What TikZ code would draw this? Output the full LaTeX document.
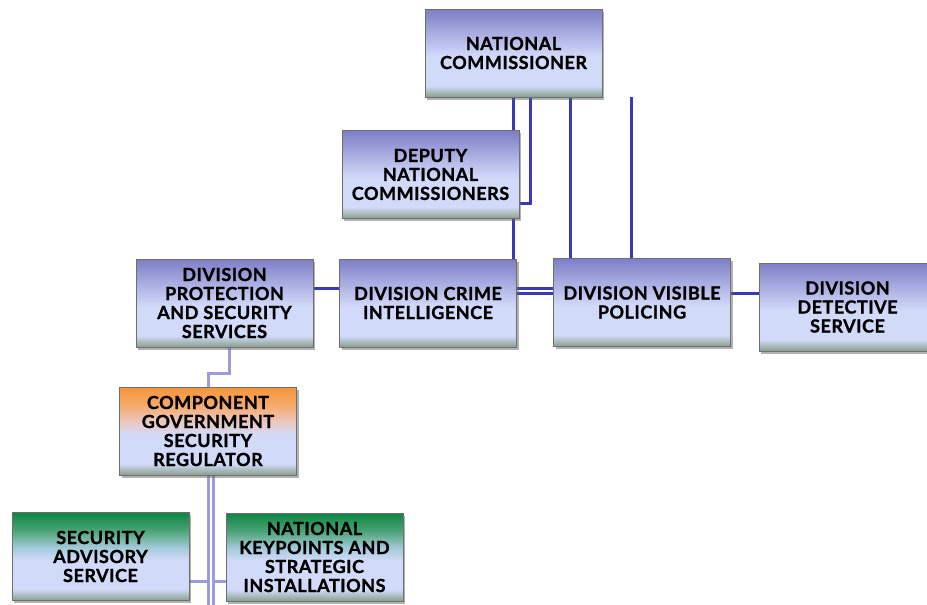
\documentclass[tikz,border=0pt]{standalone}
\usepackage{fontspec}
\newfontfamily\boxfont{Lato}[LetterSpace=3, BoldFeatures={FakeBold=1.2}]
\usetikzlibrary{shadows,backgrounds}

\definecolor{boxtop}{HTML}{7E7EC6}
\definecolor{boxmid}{HTML}{D2DAF9}
\definecolor{boxbot}{HTML}{88A08B}
\definecolor{orangetop}{HTML}{F7953A}
\definecolor{orangeup}{HTML}{F4A968}
\definecolor{orangemid}{HTML}{EBC9C4}
\definecolor{greentop}{HTML}{0C8744}
\definecolor{greenup}{HTML}{4AA274}
\definecolor{greenmid}{HTML}{A4CADA}
\definecolor{linkdark}{HTML}{3A3AB8}
\definecolor{linklight}{HTML}{9C9CDA}
\definecolor{boxedge}{HTML}{6E6E6E}

% node shadings: only the band 25bp..75bp lands inside the box
\pgfdeclareverticalshading{blueshade}{100bp}{%
  color(0bp)=(boxbot); color(25bp)=(boxbot); color(31.5bp)=(boxmid);
  color(48bp)=(boxmid); color(75bp)=(boxtop); color(100bp)=(boxtop)}
\pgfdeclareverticalshading{orangeshade}{100bp}{%
  color(0bp)=(boxbot); color(25bp)=(boxbot); color(31.5bp)=(boxmid);
  color(48bp)=(boxmid); color(55bp)=(orangemid); color(65bp)=(orangeup);
  color(75bp)=(orangetop); color(100bp)=(orangetop)}
\pgfdeclareverticalshading{greenshade}{100bp}{%
  color(0bp)=(boxbot); color(25bp)=(boxbot); color(31.5bp)=(boxmid);
  color(48bp)=(boxmid); color(55bp)=(greenmid); color(65bp)=(greenup);
  color(75bp)=(greentop); color(100bp)=(greentop)}

\tikzset{
  unit/.style={draw=boxedge, line width=0.6pt, shading=blueshade,
    minimum width=177pt, minimum height=88pt, inner sep=0pt, align=center,
    font=\boxfont\bfseries\fontsize{18}{19}\selectfont,
    drop shadow={shadow xshift=2pt, shadow yshift=-2.5pt, opacity=0.5, fill=black!60}},
  orangeunit/.style={unit, shading=orangeshade},
  greenunit/.style={unit, shading=greenshade},
  mainlink/.style={draw=linkdark, line width=3pt},
  sublink/.style={draw=linklight, line width=3pt},
}

\begin{document}
\begin{tikzpicture}[x=1pt, y=-1pt]
\useasboundingbox (0,0) rectangle (927,605);

% organisation units
\node[unit] (nc)   at (513.5, 53)  {NATIONAL\\COMMISSIONER};
\node[unit] (dnc)  at (430.5, 174.5) {DEPUTY\\NATIONAL\\COMMISSIONERS};
\node[unit] (dpss) at (224.5, 303) {DIVISION\\PROTECTION\\AND SECURITY\\SERVICES};
\node[unit] (dci)  at (428, 303)   {DIVISION CRIME\\INTELLIGENCE};
\node[unit] (dvp)  at (642, 302.5) {DIVISION VISIBLE\\POLICING};
\node[unit] (dds)  at (847.5, 307) {DIVISION\\DETECTIVE\\SERVICE};
\node[orangeunit] (cgsr) at (208, 431) {COMPONENT\\GOVERNMENT\\SECURITY\\REGULATOR};
\node[greenunit] (sas)  at (100.5, 556.5) {SECURITY\\ADVISORY\\SERVICE};
\node[greenunit] (nksi) at (314.5, 557)   {NATIONAL\\KEYPOINTS AND\\STRATEGIC\\INSTALLATIONS};

\begin{scope}[on background layer]
  % reporting lines from the national commissioner
  \draw[mainlink] (nc.south) -- (nc.south |- dci.north);
  \draw[mainlink] ([xshift=17pt]nc.south) |- ([yshift=-28.5pt]dnc.east);
  \draw[mainlink] ([xshift=57pt]nc.south) coordinate (vp) -- (vp |- dvp.north);
  \coordinate (spare) at (631, 97);
  \draw[mainlink] (spare) -- (spare |- dvp.north);
  % links between the divisions
  \draw[mainlink] ([yshift=15pt]dpss.east) -- ([yshift=15pt]dpss.east -| dci.west);
  \draw[mainlink] ([yshift=15pt]dci.east) -- ([yshift=15pt]dci.east -| dvp.west);
  \draw[mainlink] ([yshift=10pt]dci.east) -- ([yshift=10pt]dci.east -| dvp.west);
  \draw[mainlink] ([yshift=9.5pt]dvp.east) -- ([yshift=9.5pt]dvp.east -| dds.west);
  % security regulator branch
  \coordinate (bend) at (229, 373);
  \draw[sublink] (dpss.south -| bend) -- (bend) -| (cgsr.north);
  \coordinate (foot) at (208, 605);
  \draw[sublink] (cgsr.south) -- (foot);
  \draw[sublink] ([xshift=5pt]cgsr.south) -- ([xshift=5pt]foot);
  \draw[sublink] ([yshift=-24.5pt]sas.east) -- ([yshift=-24.5pt]sas.east -| cgsr.south);
  \draw[sublink] ([xshift=5pt, yshift=-24pt]nksi.west -| cgsr.south) -- ([yshift=-24pt]nksi.west);
\end{scope}
\end{tikzpicture}
\end{document}
